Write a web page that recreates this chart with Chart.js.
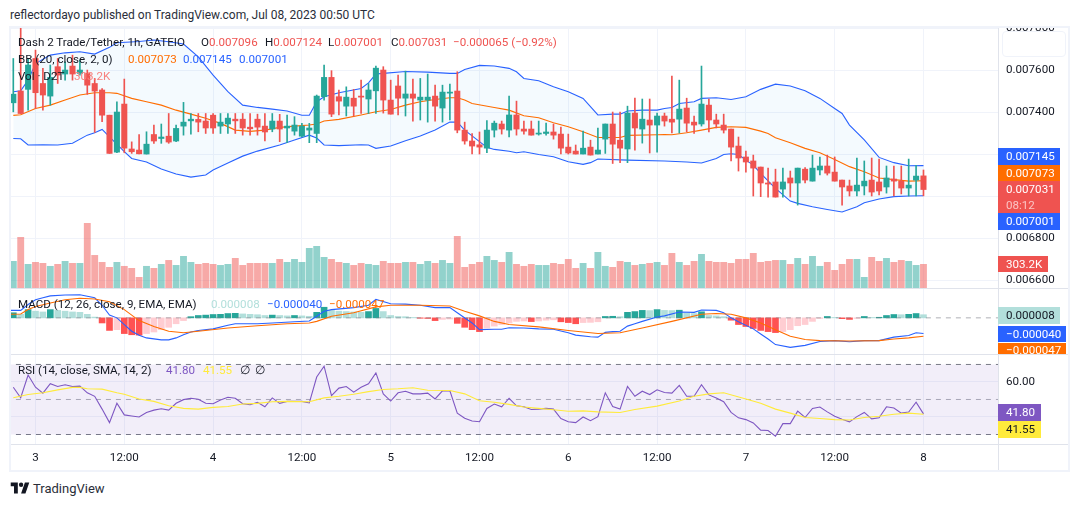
<!DOCTYPE html>
<html>
<head>
<meta charset="utf-8">
<title>Dash 2 Trade/Tether</title>
<script src="https://cdn.jsdelivr.net/npm/chart.js@4"></script>
<style>
html, body { margin: 0; padding: 0; background: #fff; width: 1080px; height: 506px; overflow: hidden; }
body { font-family: Roboto, sans-serif; font-size: 11.6px; color: #131722; }
canvas { position: absolute; left: 10px; }
.t { position: absolute; white-space: nowrap; line-height: 16px; }
.rule { position: absolute; background: #e0e3eb; }
.frame { position: absolute; background: #f0f3fa; }
.tag { position: absolute; left: 998px; color: #fff; padding-left: 8px; box-sizing: border-box; line-height: 16px; overflow: hidden; white-space: nowrap; }
.red { color: #ef5350; } .blue { color: #2962ff; } .orange { color: #ff6d00; }
</style>
</head>
<body>

<div class="t" style="left:10px;top:7px;font-size:12px;color:#2a2e39">reflectordayo published on TradingView.com, Jul 08, 2023 00:50 UTC</div>

<canvas id="mainPane" width="1058" height="261" style="top:27px"></canvas>
<canvas id="macdPane" width="1058" height="66" style="top:288px"></canvas>
<canvas id="rsiPane" width="1058" height="117" style="top:355px"></canvas>

<div class="frame" style="left:9px;top:26px;width:1061px;height:2px"></div>
<div class="frame" style="left:9px;top:470px;width:1061px;height:2px"></div>
<div class="frame" style="left:9px;top:26px;width:2px;height:446px"></div>
<div class="frame" style="left:1068px;top:26px;width:2px;height:446px"></div>
<div class="rule" style="left:998px;top:28px;width:1px;height:442px"></div>
<div class="rule" style="left:11px;top:288px;width:1057px;height:1px"></div>
<div class="rule" style="left:11px;top:354px;width:1057px;height:1px"></div>
<div class="rule" style="left:11px;top:444px;width:1057px;height:1px"></div>
<div style="position:absolute;left:1002px;top:31px;width:62px;height:24px;border:1px solid #f0f3fa;border-radius:4px;background:#fff"></div>

<div class="t" style="left:18px;top:34px">Dash 2 Trade/Tether, 1h, GATEIO</div>
<div class="t" style="left:201px;top:34px">O<span class="red">0.007096</span></div>
<div class="t" style="left:265px;top:34px">H<span class="red">0.007124</span></div>
<div class="t" style="left:328px;top:34px">L<span class="red">0.007001</span></div>
<div class="t" style="left:391px;top:34px">C<span class="red">0.007031</span></div>
<div class="t red" style="left:453px;top:34px">−0.000065 (−0.92%)</div>
<div class="t" style="left:18px;top:51px">BB (20, close, 2, 0)</div>
<div class="t orange" style="left:128px;top:51px">0.007073</div>
<div class="t blue" style="left:183px;top:51px">0.007145</div>
<div class="t blue" style="left:239px;top:51px">0.007001</div>
<div class="t" style="left:18px;top:68px">Vol · D2T</div>
<div class="t" style="left:74px;top:68px;color:#f7817f">303.2K</div>

<div class="t" style="left:18px;top:296px">MACD (12, 26, close, 9, EMA, EMA)</div>
<div class="t" style="left:211px;top:296px;color:#b2dfdb">0.000008</div>
<div class="t blue" style="left:267px;top:296px">−0.000040</div>
<div class="t orange" style="left:329px;top:296px">−0.000047</div>

<div class="t" style="left:18px;top:362px">RSI (14, close, SMA, 14, 2)</div>
<div class="t" style="left:166px;top:362px;color:#7e57c2">41.80</div>
<div class="t" style="left:203px;top:362px;color:#ffeb3b">41.55</div>
<div class="t" style="left:240px;top:362px">∅</div>
<div class="t" style="left:255px;top:362px">∅</div>

<div class="tag" style="top:148px;width:62px;height:17px;background:#2962ff">0.007145</div>
<div class="tag" style="top:165px;width:62px;height:16px;background:#ff6d00">0.007073</div>
<div class="tag" style="top:181px;width:62px;height:32px;background:#ef5350">0.007031<br><span style="color:#fbc4c3">08:12</span></div>
<div class="tag" style="top:213px;width:62px;height:17px;background:#2962ff">0.007001</div>
<div class="tag" style="top:256px;width:50px;height:16px;background:#ef5350">303.2K</div>
<div class="tag" style="top:307px;width:62px;height:17px;background:#b2dfdb;color:#131722">0.000008</div>
<div class="tag" style="top:326px;width:68px;height:16px;background:#2962ff">−0.000040</div>
<div class="tag" style="top:343px;width:68px;height:11px;background:#ff6d00;line-height:14px">−0.000047</div>
<div class="tag" style="top:404px;width:43px;height:17px;background:#7e57c2">41.80</div>
<div class="tag" style="top:421px;width:43px;height:17px;background:#ffeb3b;color:#131722">41.55</div>

<svg style="position:absolute;left:10px;top:482px" width="20" height="12" viewBox="0 0 36 22"><path fill="#131722" d="M14 1H1v7h6v13h7V1zm14 20h-8l7-20h8l-7 20zm-8-12a4 4 0 1 0 0-8 4 4 0 0 0 0 8z"/></svg>
<div class="t" style="left:33px;top:481px;font-size:13px;color:#2a2e39">TradingView</div>

<script>
// Candles, one per hour, hour 0 is Jul 3 00:00 (prices in millionths)
var firstHour = -3;
var opens = [
    7444, 7500, 7508, 7655, 7536, 7476, 7616, 7581, 7619, 7584,
    7584, 7536, 7505, 7385, 7209, 7438, 7224, 7219, 7200, 7293,
    7274, 7285, 7262, 7333, 7358, 7365, 7357, 7385, 7333, 7343,
    7366, 7366, 7328, 7366, 7333, 7319, 7357, 7324, 7309, 7285,
    7314, 7298, 7473, 7565, 7473, 7428, 7466, 7476, 7462, 7501,
    7600, 7457, 7524, 7466, 7486, 7457, 7457, 7476, 7419, 7490,
    7500, 7314, 7262, 7244, 7228, 7314, 7343, 7314, 7386, 7319,
    7319, 7295, 7298, 7305, 7295, 7233, 7214, 7200, 7233, 7200,
    7271, 7343, 7266, 7224, 7395, 7319, 7362, 7338, 7381, 7366,
    7366, 7419, 7352, 7343, 7433, 7362, 7338, 7319, 7238, 7186,
    7167, 7138, 7062, 7067, 7033, 7086, 7062, 7128, 7071, 7124,
    7143, 7114, 7076, 7048, 7024, 7048, 7076, 7067, 7043, 7081,
    7071, 7038, 7076, 7096
];
var highs = [
    7655, 7803, 7655, 7695, 7608, 7624, 7655, 7639, 7671, 7647,
    7600, 7560, 7512, 7385, 7449, 7557, 7258, 7293, 7306, 7338,
    7343, 7393, 7338, 7446, 7393, 7393, 7393, 7393, 7393, 7393,
    7393, 7393, 7393, 7390, 7393, 7393, 7389, 7385, 7378, 7346,
    7346, 7481, 7624, 7597, 7505, 7520, 7508, 7552, 7536, 7619,
    7616, 7552, 7576, 7595, 7557, 7560, 7581, 7528, 7528, 7533,
    7592, 7352, 7298, 7305, 7359, 7357, 7357, 7476, 7452, 7357,
    7357, 7357, 7347, 7343, 7328, 7295, 7243, 7309, 7266, 7324,
    7343, 7400, 7400, 7428, 7466, 7462, 7462, 7395, 7395, 7571,
    7552, 7466, 7381, 7619, 7462, 7390, 7390, 7319, 7281, 7214,
    7195, 7138, 7133, 7128, 7133, 7119, 7133, 7136, 7195, 7186,
    7195, 7186, 7076, 7076, 7181, 7167, 7181, 7176, 7143, 7143,
    7143, 7176, 7146, 7124
];
var lows = [
    7401, 7393, 7409, 7417, 7409, 7433, 7536, 7552, 7552, 7576,
    7484, 7303, 7354, 7203, 7206, 7206, 7203, 7201, 7200, 7251,
    7251, 7251, 7259, 7290, 7295, 7306, 7298, 7298, 7298, 7298,
    7298, 7290, 7290, 7290, 7263, 7306, 7259, 7254, 7290, 7282,
    7254, 7254, 7457, 7378, 7386, 7381, 7381, 7393, 7393, 7393,
    7395, 7390, 7386, 7381, 7357, 7362, 7352, 7357, 7352, 7362,
    7301, 7247, 7200, 7200, 7206, 7281, 7295, 7281, 7290, 7295,
    7290, 7290, 7290, 7271, 7200, 7200, 7200, 7200, 7195, 7200,
    7203, 7155, 7159, 7159, 7219, 7252, 7205, 7209, 7333, 7300,
    7300, 7305, 7298, 7333, 7305, 7324, 7300, 7167, 7119, 7114,
    7000, 6997, 6995, 6995, 6995, 6995, 6957, 7062, 7071, 7100,
    7100, 7071, 6957, 7000, 7000, 7005, 7000, 7005, 7014, 7000,
    7010, 7000, 7000, 7001
];
var closes = [
    7485, 7393, 7624, 7492, 7481, 7565, 7576, 7600, 7581, 7600,
    7528, 7500, 7385, 7203, 7400, 7228, 7211, 7201, 7247, 7262,
    7281, 7257, 7322, 7352, 7366, 7352, 7324, 7324, 7352, 7371,
    7358, 7324, 7320, 7328, 7305, 7357, 7319, 7333, 7338, 7333,
    7324, 7476, 7565, 7390, 7452, 7471, 7428, 7471, 7505, 7609,
    7457, 7390, 7466, 7486, 7466, 7471, 7471, 7428, 7495, 7495,
    7314, 7262, 7238, 7233, 7314, 7347, 7319, 7386, 7319, 7309,
    7290, 7300, 7305, 7290, 7228, 7205, 7200, 7228, 7195, 7219,
    7343, 7247, 7228, 7395, 7324, 7366, 7338, 7381, 7357, 7352,
    7414, 7347, 7338, 7438, 7362, 7343, 7314, 7233, 7181, 7162,
    7133, 7062, 7057, 6995, 7067, 7062, 7133, 7076, 7133, 7143,
    7109, 7071, 7043, 7024, 7052, 7071, 7019, 7024, 7086, 7071,
    7038, 7052, 7095, 7031
];

// Volume in thousands
var volumes = [
    342, 649, 303, 329, 316, 278, 303, 342, 316, 316,
    828, 418, 329, 265, 329, 278, 252, 137, 278, 252,
    303, 354, 290, 406, 329, 303, 316, 303, 290, 303,
    380, 290, 316, 316, 316, 316, 367, 329, 367, 329,
    508, 534, 393, 367, 329, 316, 290, 316, 303, 290,
    342, 316, 316, 329, 329, 303, 342, 316, 354, 316,
    662, 265, 303, 329, 406, 354, 329, 457, 303, 278,
    303, 290, 290, 316, 303, 367, 252, 316, 252, 457,
    278, 265, 342, 329, 290, 303, 316, 329, 290, 444,
    329, 290, 342, 431, 342, 329, 329, 316, 367, 367,
    444, 329, 342, 354, 354, 303, 380, 303, 406, 278,
    329, 226, 303, 367, 367, 137, 393, 342, 380, 329,
    354, 342, 290, 303
];

var upperHours = [-3, -2, -1, 0, 2, 4, 6, 8, 10, 11, 14, 16, 18, 20, 22, 24, 26, 28, 30, 32, 34, 36, 37, 38, 39,
    41, 44, 45, 46, 47, 50, 53, 56, 57, 58, 60, 62, 64, 65, 66, 68, 70, 72, 74, 76, 78, 79, 80, 82, 84, 85,
    86, 87, 89, 90, 92, 94, 96, 98, 100, 102, 104, 106, 108, 109, 110, 112, 114, 116, 118, 120];
var upperValues = [7497, 7501, 7552, 7631, 7671, 7682, 7687, 7676, 7708, 7730, 7736, 7743, 7735, 7724, 7663, 7576, 7497, 7433, 7422, 7414, 7405, 7385, 7385, 7449, 7473,
    7492, 7512, 7539, 7581, 7584, 7593, 7590, 7584, 7584, 7603, 7622, 7619, 7608, 7592, 7560, 7549, 7520, 7497, 7465, 7386, 7390, 7390, 7405, 7409, 7409, 7417,
    7422, 7441, 7449, 7465, 7468, 7460, 7473, 7508, 7533, 7524, 7501, 7465, 7417, 7393, 7338, 7267, 7184, 7159, 7144, 7145];

var basisHours = [-3, -2, 0, 2, 4, 6, 8, 10, 11, 13, 15, 17, 19, 21, 23, 25, 27, 29, 31, 33, 35, 37, 38, 39,
    41, 44, 46, 48, 50, 52, 54, 56, 57, 58, 59, 62, 64, 66, 68, 70, 72, 74, 76, 79, 80, 84, 85,
    86, 88, 90, 92, 94, 96, 98, 99, 100, 102, 104, 106, 108, 110, 112, 114, 116, 118, 120];
var basisValues = [7384, 7387, 7417, 7433, 7457, 7481, 7492, 7492, 7489, 7465, 7449, 7433, 7409, 7390, 7370, 7346, 7314, 7308, 7314, 7327, 7333, 7338, 7343, 7357,
    7365, 7386, 7401, 7412, 7433, 7449, 7460, 7468, 7468, 7457, 7441, 7422, 7409, 7382, 7373, 7349, 7330, 7306, 7279, 7279, 7289, 7292, 7293,
    7292, 7301, 7314, 7327, 7330, 7327, 7309, 7298, 7278, 7254, 7227, 7206, 7174, 7140, 7116, 7086, 7078, 7071, 7073];

var lowerHours = [-3, -2, -1, 1, 3, 5, 7, 8, 9, 10, 12, 13, 15, 17, 19, 21, 23, 24, 26, 28, 30, 33, 35, 37, 38, 39,
    41, 44, 45, 46, 48, 50, 52, 54, 56, 57, 58, 60, 61, 62, 64, 65, 66, 68, 70, 72, 74, 75, 76, 80, 85,
    88, 90, 92, 93, 94, 95, 96, 97, 98, 100, 102, 103, 105, 107, 109, 111, 112, 114, 116, 118, 120];
var lowerValues = [7274, 7273, 7243, 7244, 7243, 7251, 7290, 7301, 7317, 7282, 7211, 7179, 7162, 7129, 7105, 7090, 7100, 7124, 7157, 7190, 7214, 7243, 7267, 7290, 7276, 7243,
    7240, 7244, 7243, 7227, 7238, 7263, 7286, 7314, 7352, 7352, 7314, 7259, 7232, 7222, 7213, 7206, 7211, 7198, 7187, 7163, 7151, 7159, 7176, 7171, 7167,
    7162, 7157, 7179, 7198, 7201, 7198, 7171, 7147, 7108, 7036, 6976, 6965, 6949, 6936, 6924, 6949, 6968, 6986, 6997, 7000, 7001];

// MACD in millionths
var macdHist = [
    13, 9, 21, 17, 15, 21, 19, 17, 15, 14,
    9, 2, -13, -32, -30, -40, -43, -44, -40, -36,
    -30, -24, -15, -7, 3, 6, 7, 8.5, 9, 11,
    11.5, 10, 9, 8, 6, 7, 6, 5, 6, 5,
    4, 14, 27, 19, 17, 16, 15, 14, 16, 24,
    16, 6, 3.5, 3, 1, -1, -1.5, -7, -4, -3,
    -14, -24, -30, -35, -26, -21, -17, -13, -9, -8,
    -9.5, -8, -6, -5, -10, -12, -15, -12, -11.5, -10,
    3.5, 4, 3, 14, 16, 19, 18.5, 21, 19, 18.5,
    19.5, 13, 11, 15.5, 6, 5, 3, -6, -17, -22,
    -27, -32, -35, -37.5, -35, -30, -20, -17, -9, -1.5,
    3.5, 1, -2, -4, -1.5, 3.5, 1, 1.5, 6, 8.5,
    8, 9, 11, 8
];
var macdHours = [-3.4, -2, -1, 0, 1, 2, 4, 6, 8, 9, 10, 11, 12, 13, 14, 15, 17, 18, 19, 20, 21, 22, 24, 26, 27, 30, 32, 35, 37, 38, 39, 40, 43, 45, 46, 48, 50, 52, 54, 56, 57, 59, 60,
    62, 63, 64, 66, 68, 70, 72, 73, 75, 76, 77, 78, 79, 80, 81, 82, 84, 85, 87, 89, 90, 92, 93, 94, 95, 97, 98, 99, 100, 102, 104, 106, 108, 110, 112, 114, 116, 118, 119, 120];
var macdValues = [19, 19, 34, 46, 51, 56, 58, 59, 51, 32, 7, 0, -17, -34, -44, -51, -56, -56, -51, -43, -36, -32, -28, -19, -15, -15, -13, -10, -8, 4, 17, 21, 26, 32, 47, 36, 35, 32, 26, 26, 13, -13, -30,
    -29, -29, -25, -26, -28, -29, -38, -44, -48, -49, -37, -35, -34, -21, -15, -9, 2, 5, 15, 14, 20, 19, 13, 0, -10, -28, -41, -54, -68, -75, -70, -60, -58, -61, -58, -58, -49, -45, -38, -40];
var signalHours = [-3.4, -2, -1, 0, 2, 4, 6, 8, 10, 12, 14, 16, 18, 20, 22, 26, 30, 34, 37, 38, 40, 43, 46, 48, 52, 56, 58, 60,
    62, 64, 68, 72, 75, 76, 79, 82, 86, 90, 92, 94, 96, 98, 100, 102, 104, 106, 110, 114, 116, 118, 120];
var signalValues = [9, 10, 21, 29, 38, 46, 50, 48, 41, 21, -7, -22, -34, -38, -34, -26, -20, -15, -13, -9, 4, 13, 28, 32, 32, 30, 17, 5,
    -9, -17, -23, -32, -38, -40, -38, -26, -9, 9, 11, 9, 0, -13, -30, -47, -55, -58, -59, -58, -54, -51, -47];

// RSI
var rsiValues = [
    57, 51, 64, 57, 53.6, 59, 57.4, 58.4, 57.4, 57.6,
    53.8, 51.8, 44.5, 36.8, 47.8, 41.2, 40.6, 40, 42.6, 43.9,
    44.7, 43.9, 47.8, 49.9, 50.7, 50.1, 47.8, 47.6, 49.7, 51.3,
    50.7, 47.6, 47, 48.4, 45.8, 50.9, 47.8, 48.9, 48.9, 48.9,
    48, 62.8, 69, 52.2, 56.5, 57.4, 54.2, 57, 59, 65.2,
    53.2, 49.1, 53.8, 54.7, 53.2, 53.2, 53.6, 50.3, 54.9, 54.9,
    42.2, 39.3, 37.7, 37.3, 44.9, 47.4, 45.8, 50.7, 46.4, 45.8,
    44.3, 44.5, 44.9, 44.5, 39.1, 37.3, 36.8, 40, 37.9, 40.2,
    53.8, 46, 44.5, 57.4, 51.8, 54.7, 52.8, 55.5, 54, 53.6,
    58, 51.8, 51.8, 58.4, 52.6, 50.9, 48.7, 42.6, 39.5, 38.5,
    36.6, 32.5, 32.3, 29, 36.2, 36.2, 43.3, 39.7, 44.9, 45.7,
    42.9, 40.4, 38.7, 37.2, 40.2, 42.6, 38.9, 39.5, 45.8, 45.1,
    42.2, 42.8, 48.4, 41.8
];
var rsiMaHours = [-3, -1, 1, 3, 5, 6, 7, 9, 11, 12, 14, 16, 18, 20, 22, 24, 26, 28, 30, 32, 34, 37, 39, 41, 43, 45, 47, 49, 51, 53, 56, 58, 60, 62,
    64, 66, 68, 70, 72, 74, 76, 79, 81, 84, 87, 89, 91, 93, 96, 98, 100, 102, 104, 106, 108, 110, 112, 114, 116, 118, 120];
var rsiMaValues = [51, 52.8, 53.8, 55.5, 56.9, 56.9, 56.1, 55.9, 53.8, 53, 50.3, 48.9, 46.4, 44.9, 44.5, 45.5, 46, 47.4, 47.8, 48.7, 48.9, 48.7, 50.9, 51.8, 53, 54.5, 55.7, 56.1, 56.7, 55.3, 55.1, 53.2, 49.3, 48.4,
    47.2, 45.7, 44.9, 44.1, 43.3, 43.5, 42.9, 42.6, 44.3, 46.2, 49.1, 51.8, 53.2, 53.8, 50.3, 47.8, 44.5, 42.2, 39.7, 39.1, 38.5, 38.3, 39.7, 40.4, 41.6, 42.2, 41.55];
var rsiBandLevels = [70, 50, 30];

// Axis ticks
var priceTicks = [6600, 6800, 7000, 7200, 7400, 7600, 7800];
var rsiTicks = [40, 60];
var timeTickHours = [0, 12, 24, 36, 48, 60, 72, 84, 96, 108, 120];
var timeTickLabels = ['3', '12:00', '4', '12:00', '5', '12:00', '6', '12:00', '7', '12:00', '8'];

var UP = '#26a69a', DOWN = '#ef5350';
var AXIS_FONT = { family: 'Roboto, sans-serif', size: 11.6 };
var hours = opens.map(function (v, i) { return firstHour + i; });

function xy(xs, ys) {
    return xs.map(function (x, i) { return { x: x, y: ys[i] }; });
}

function lineSet(xs, ys, color, width, extra) {
    return Object.assign({
        type: 'line', data: xy(xs, ys), borderColor: color, borderWidth: width,
        pointRadius: 0, tension: 0, fill: false, yAxisID: 'y', order: 3
    }, extra || {});
}

function flatLine(level, extra) {
    return lineSet([-4, 131], [level, level], '#787b86', 1, Object.assign({ borderDash: [5, 5], order: 6 }, extra || {}));
}

// tick labels must not push the plot area away from the canvas edges
function noPadding(axis) {
    axis.paddingTop = 0;
    axis.paddingBottom = 0;
    axis.paddingLeft = 0;
    axis.paddingRight = 0;
}

// x axis is shared, only the lowest pane shows its labels
function xAxis(showLabels) {
    return {
        type: 'linear', min: -3.446, max: 130.07, offset: false,
        grid: { color: '#f0f3fa', drawTicks: false, offset: false },
        border: { display: false },
        afterBuildTicks: function (axis) {
            axis.ticks = timeTickHours.map(function (h) { return { value: h }; });
        },
        afterFit: function (axis) {
            axis.height = showLabels ? 27 : 0;
            noPadding(axis);
        },
        ticks: {
            display: showLabels, autoSkip: false, maxRotation: 0, padding: 6, color: '#131722', font: AXIS_FONT,
            callback: function (value) { return timeTickLabels[timeTickHours.indexOf(value)]; }
        }
    };
}

function yAxis(min, max, ticks, digits) {
    return {
        position: 'right', min: min, max: max,
        grid: { color: '#f0f3fa', drawTicks: false },
        border: { display: false },
        afterBuildTicks: function (axis) {
            axis.ticks = ticks.map(function (v) { return { value: v }; });
        },
        afterFit: function (axis) {
            axis.width = 70;
            noPadding(axis);
        },
        ticks: { padding: 8, color: '#131722', font: AXIS_FONT, autoSkip: false, callback: digits }
    };
}

function makeChart(id, datasets, scales) {
    return new Chart(document.getElementById(id).getContext('2d'), {
        type: 'bar',
        data: { datasets: datasets },
        options: {
            responsive: false, animation: false, devicePixelRatio: 1,
            layout: { padding: 0 },
            plugins: { legend: { display: false }, tooltip: { enabled: false } },
            scales: scales
        }
    });
}

var isUp = closes.map(function (c, i) { return c >= opens[i]; });
function candleColors() { return isUp.map(function (u) { return u ? UP : DOWN; }); }

// Price pane with the volume bars behind it
makeChart('mainPane', [
    {
        data: hours.map(function (h, i) { return { x: h, y: [opens[i], closes[i]] }; }),
        backgroundColor: candleColors(), barThickness: 5.4, grouped: false, yAxisID: 'y', order: 1
    },
    {
        data: hours.map(function (h, i) { return { x: h, y: [lows[i], highs[i]] }; }),
        backgroundColor: candleColors(), barThickness: 1, grouped: false, yAxisID: 'y', order: 2
    },
    lineSet(upperHours, upperValues, '#2962ff', 1.1, { backgroundColor: 'rgba(33,150,243,0.05)', fill: '+1', order: 4 }),
    lineSet(lowerHours, lowerValues, '#2962ff', 1.1, { order: 4 }),
    lineSet(basisHours, basisValues, '#ff6d00', 1.1),
    {
        data: hours.map(function (h, i) { return { x: h, y: volumes[i] }; }),
        backgroundColor: isUp.map(function (u) { return u ? 'rgba(38,166,154,0.5)' : 'rgba(239,83,80,0.5)'; }),
        barThickness: 6.2, grouped: false, yAxisID: 'vol', order: 5
    }
], {
    x: xAxis(false),
    y: yAxis(6562, 7805, priceTicks, function (v) { return (v / 1e6).toFixed(6); }),
    vol: { display: false, min: 0, max: 3343 }
});

// MACD pane, histogram shade follows rise or fall against the previous bar
var histColors = macdHist.map(function (v, i) {
    var rising = i === 0 || v > macdHist[i - 1];
    if (v >= 0) return rising ? '#26a69a' : '#b2dfdb';
    return rising ? '#ffcdd2' : '#ff5252';
});
makeChart('macdPane', [
    {
        data: hours.map(function (h, i) { return { x: h, y: macdHist[i] }; }),
        backgroundColor: histColors, barThickness: 6, grouped: false, yAxisID: 'y', order: 5
    },
    flatLine(0, { borderColor: 'rgba(120,123,134,0.6)', order: 4 }),
    lineSet(macdHours, macdValues, '#2962ff', 1.1, { order: 2 }),
    lineSet(signalHours, signalValues, '#ff6d00', 1.1, { order: 1 })
], {
    x: xAxis(false),
    y: yAxis(-92, 76, [], function () { return ''; })
});

// RSI pane
makeChart('rsiPane', [
    lineSet(hours, rsiValues, '#7e57c2', 1.1, { order: 2 }),
    lineSet(rsiMaHours, rsiMaValues, '#ffeb3b', 1.1, { order: 1 }),
    flatLine(rsiBandLevels[0], { backgroundColor: 'rgba(126,87,194,0.1)', fill: '+2' }),
    flatLine(rsiBandLevels[1], { borderColor: 'rgba(120,123,134,0.6)' }),
    flatLine(rsiBandLevels[2])
], {
    x: xAxis(true),
    y: yAxis(24, 75.4, rsiTicks, function (v) { return v.toFixed(2); })
});
</script>
</body>
</html>
